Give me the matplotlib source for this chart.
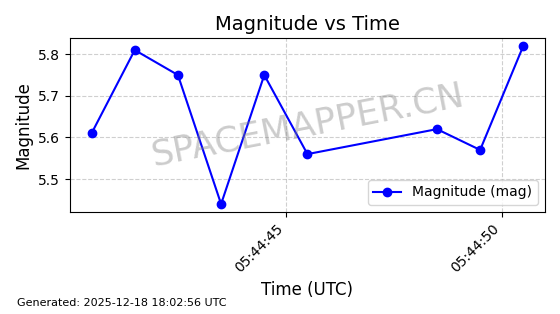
import matplotlib
matplotlib.use('Agg')
import matplotlib.pyplot as plt
import matplotlib.dates as mdates
import pandas as pd

times = pd.to_datetime([
    '2025-12-18 05:44:40.5', '2025-12-18 05:44:41.5', '2025-12-18 05:44:42.5',
    '2025-12-18 05:44:43.5', '2025-12-18 05:44:44.5', '2025-12-18 05:44:45.5',
    '2025-12-18 05:44:48.5', '2025-12-18 05:44:49.5', '2025-12-18 05:44:50.5',
])
magnitude = [5.61, 5.81, 5.75, 5.44, 5.75, 5.56, 5.62, 5.57, 5.82]

fig, ax = plt.subplots(figsize=(5.6, 3.14), dpi=100)
fig.subplots_adjust(left=0.125, right=0.973, top=0.879, bottom=0.325)

ax.plot(times, magnitude, marker='o', color='blue', label='Magnitude (mag)')

ax.xaxis.set_major_locator(mdates.SecondLocator(bysecond=[45, 50]))
ax.xaxis.set_major_formatter(mdates.DateFormatter('%H:%M:%S'))
plt.setp(ax.get_xticklabels(), rotation=45, ha='right')

ax.set_title('Magnitude vs Time', fontsize=14)
ax.set_xlabel('Time (UTC)', fontsize=12)
ax.set_ylabel('Magnitude', fontsize=12)
ax.grid(True, linestyle='--', alpha=0.6)
ax.legend(loc='lower right')

ax.text(0.5, 0.5, 'SPACEMAPPER.CN', transform=ax.transAxes, fontsize=25.5,
        color='gray', alpha=0.4, rotation=11, ha='center', va='center')

fig.text(0.03, 0.025, 'Generated: 2025-12-18 18:02:56 UTC', fontsize=8)

fig.savefig('out.png')
